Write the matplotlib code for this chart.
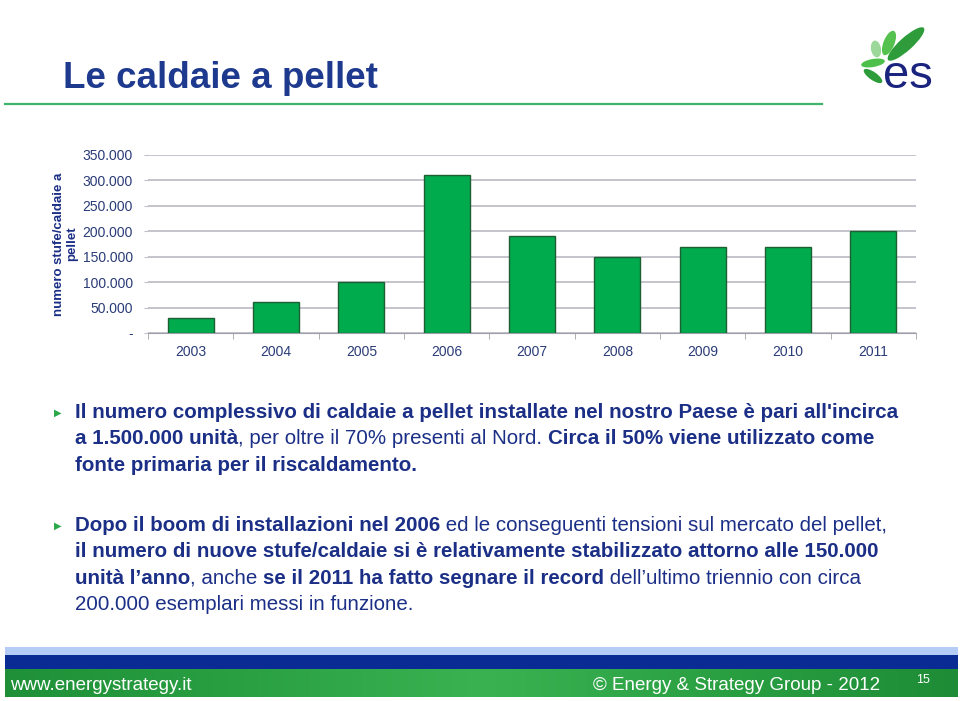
import matplotlib
matplotlib.use("Agg")
import numpy as np
import matplotlib.pyplot as plt
from matplotlib.patches import Ellipse, Rectangle
from matplotlib.colors import LinearSegmentedColormap
from matplotlib.ticker import FuncFormatter, MultipleLocator

# --- data ---
years = ["2003", "2004", "2005", "2006", "2007", "2008", "2009", "2010", "2011"]
installs = [30000, 60000, 100000, 310000, 190000, 150000, 170000, 170000, 200000]
y_label = "numero stufe/caldaie a\npellet"
title = "Le caldaie a pellet"

bullet1 = [
    [("Il numero complessivo di caldaie a pellet installate nel nostro Paese è pari all'incirca", True)],
    [("a 1.500.000 unità", True), (", per oltre il 70% presenti al Nord. ", False),
     ("Circa il 50% viene utilizzato come", True)],
    [("fonte primaria per il riscaldamento.", True)],
]
bullet2 = [
    [("Dopo il boom di installazioni nel 2006", True),
     (" ed le conseguenti tensioni sul mercato del pellet,", False)],
    [("il numero di nuove stufe/caldaie si è relativamente stabilizzato attorno alle 150.000", True)],
    [("unità l’anno", True), (", anche ", False), ("se il 2011 ha fatto segnare il record", True),
     (" dell’ultimo triennio con circa", False)],
    [("200.000 esemplari messi in funzione.", False)],
]
footer_left = "www.energystrategy.it"
footer_right = "© Energy & Strategy Group - 2012"
page_no = "15"

NAVY = "#1B2F86"
TITLE_BLUE = "#1E3A8E"
GREEN = "#00AB4E"

plt.rcParams["font.family"] = ["Liberation Sans", "DejaVu Sans"]

W, H = 960, 701
fig = plt.figure(figsize=(W / 100, H / 100), dpi=100)
bg = fig.add_axes([0, 0, 1, 1])
bg.set_xlim(0, W)
bg.set_ylim(H, 0)
bg.axis("off")

# title and rule
bg.text(63, 88, title, fontsize=26.5, fontweight="bold", color=TITLE_BLUE, va="baseline")
bg.plot([5, 822], [104, 104], color="#3DB36B", lw=1.6)

# logo
leaves = [
    ((906, 44), 48, 13, -42, "#2E9C3A"),
    ((889, 43), 26, 11, -68, "#55C24F"),
    ((876, 49), 17, 10, -100, "#9CD89A"),
    ((873, 63), 24, 8, -10, "#4CC04A"),
    ((873, 76), 22, 8, 35, "#2E9C3A"),
]
for (cx, cy), w, h, ang, col in leaves:
    bg.add_patch(Ellipse((cx, cy), w, h, angle=ang, color=col, lw=0))
bg.text(908, 88, "es", fontsize=34, color="#1A237E", ha="center", va="baseline")

# chart
ax = fig.add_axes([148 / W, (H - 333) / H, (916 - 148) / W, (333 - 155) / H])
x = list(range(len(years)))
ax.bar(x, installs, width=0.54, color=GREEN, edgecolor="#1D5E32", linewidth=1, zorder=3)
ax.set_xlim(-0.5, len(years) - 0.5)
ax.set_ylim(0, 350000)
ax.yaxis.set_major_locator(MultipleLocator(50000))
ax.yaxis.set_major_formatter(FuncFormatter(
    lambda v, p: "-" if v == 0 else f"{v:,.0f}".replace(",", ".")))
ax.grid(axis="y", color="#BFC0C8", lw=1.3, zorder=0)
for s in ["left", "right", "top"]:
    ax.spines[s].set_visible(False)
ax.spines["bottom"].set_color("#A0A0A8")
ax.set_xticks(x)
ax.set_xticklabels(years)
ax.set_xticks([i - 0.5 for i in range(len(years) + 1)], minor=True)
ax.tick_params(axis="x", which="major", length=0, pad=9, labelsize=10, labelcolor="#2A3C78")
ax.tick_params(axis="x", which="minor", length=4, color="#A0A0A8")
ax.tick_params(axis="y", length=3, color="#BFC0C8", labelsize=10, labelcolor="#2A3C78", pad=8)
ax.set_ylabel(y_label, fontsize=9.5, fontweight="bold", color=NAVY, labelpad=3, linespacing=1.1)

# bullet text
renderer = fig.canvas.get_renderer()


def draw_runs(x0, y0, runs, size=14.8):
    xx = x0
    for txt, bold in runs:
        t = bg.text(xx, y0, txt, fontsize=size,
                    fontweight="bold" if bold else "normal", color=NAVY, va="baseline")
        xx += t.get_window_extent(renderer).width


def draw_bullet(y_first, lines, step=26.3):
    bg.text(58, y_first - 5, "▶", fontsize=7, color="#2BA84A", ha="center", va="center",
            family="DejaVu Sans")
    for i, runs in enumerate(lines):
        draw_runs(75, y_first + i * step, runs)


draw_bullet(418, bullet1)
draw_bullet(531, bullet2)

# footer bands
bg.add_patch(Rectangle((5, 647), 953, 8, color="#B5CCF7", lw=0))
bg.add_patch(Rectangle((5, 655), 953, 14, color="#0A2A94", lw=0))
green_cmap = LinearSegmentedColormap.from_list(
    "foot", ["#1F9038", "#2AA042", "#3AB252", "#2AA042", "#1E8C36"])
bg.imshow(np.linspace(0, 1, 256)[None, :], cmap=green_cmap, aspect="auto",
          extent=(5, 958, 697, 669), zorder=1)
bg.set_xlim(0, W)
bg.set_ylim(H, 0)
bg.text(10, 690, footer_left, fontsize=13.5, color="white", va="baseline", zorder=2)
bg.text(880, 690, footer_right, fontsize=13.5, color="white",
        va="baseline", ha="right", zorder=2)
bg.text(916, 683, page_no, fontsize=9, color="white", va="baseline", zorder=2)

fig.savefig("out.png", dpi=100)
